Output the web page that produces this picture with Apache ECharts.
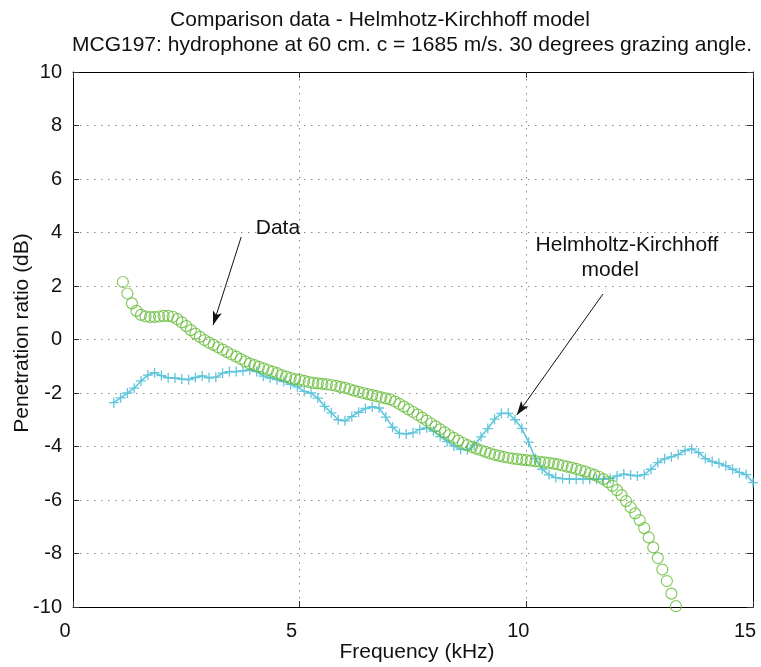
<!DOCTYPE html>
<html><head><meta charset="utf-8">
<script src="https://cdn.jsdelivr.net/npm/echarts@6/dist/echarts.min.js"></script>
<style>html,body{margin:0;padding:0;background:#fff}#c{width:761px;height:667px}</style>
</head><body><div id="c"></div><script>
const titleLine1 = 'Comparison data - Helmhotz-Kirchhoff model';
const titleLine2 = 'MCG197: hydrophone at 60 cm. c = 1685 m/s. 30 degrees grazing angle.';
const xAxisName = 'Frequency (kHz)';
const yAxisName = 'Penetration ratio (dB)';
const xRange = [0, 15, 5];
const yRange = [-10, 10, 2];

// "Data" series (green circles): frequency grid 1.1 .. 13.3 kHz, step 0.1
const dataFreqStart = 1.1, dataFreqStep = 0.1;
const dataValues = [
  2.15,1.72,1.35,1.07,0.92,0.86,0.84,0.84,0.86,0.88,
  0.88,0.85,0.76,0.64,0.5,0.35,0.22,0.1,-0.02,-0.12,
  -0.2,-0.29,-0.38,-0.47,-0.56,-0.64,-0.73,-0.82,-0.9,-0.96,
  -1.02,-1.08,-1.14,-1.2,-1.26,-1.33,-1.39,-1.44,-1.48,-1.51,
  -1.55,-1.59,-1.62,-1.64,-1.66,-1.68,-1.7,-1.73,-1.77,-1.81,
  -1.86,-1.91,-1.96,-2.0,-2.04,-2.08,-2.12,-2.16,-2.2,-2.24,
  -2.32,-2.41,-2.51,-2.61,-2.71,-2.81,-2.92,-3.03,-3.14,-3.25,
  -3.36,-3.47,-3.58,-3.68,-3.78,-3.87,-3.95,-4.02,-4.08,-4.14,
  -4.2,-4.26,-4.31,-4.35,-4.39,-4.42,-4.45,-4.47,-4.49,-4.51,
  -4.53,-4.55,-4.57,-4.59,-4.61,-4.64,-4.67,-4.71,-4.75,-4.79,
  -4.84,-4.89,-4.94,-5.0,-5.06,-5.13,-5.22,-5.33,-5.47,-5.63,
  -5.82,-6.04,-6.27,-6.5,-6.75,-7.05,-7.4,-7.77,-8.17,-8.6,
  -9.03,-9.5,-9.97
];

// Helmholtz-Kirchhoff model (cyan +): frequency grid 0.9 .. 15 kHz, step 0.15
const modelFreqStart = 0.9, modelFreqStep = 0.15;
const modelValues = [
  -2.36,-2.18,-2.0,-1.82,-1.55,-1.33,-1.24,-1.35,-1.43,-1.44,
  -1.48,-1.5,-1.42,-1.36,-1.43,-1.41,-1.26,-1.2,-1.2,-1.17,
  -1.14,-1.2,-1.37,-1.44,-1.5,-1.57,-1.68,-1.77,-1.94,-2.0,
  -2.19,-2.5,-2.74,-3.0,-3.04,-2.88,-2.72,-2.58,-2.52,-2.56,
  -2.9,-3.28,-3.51,-3.53,-3.49,-3.36,-3.3,-3.42,-3.63,-3.82,
  -3.98,-4.11,-4.12,-3.95,-3.64,-3.33,-2.98,-2.76,-2.76,-3.0,
  -3.32,-3.84,-4.45,-4.85,-5.06,-5.16,-5.2,-5.22,-5.22,-5.22,
  -5.22,-5.22,-5.22,-5.2,-5.1,-5.03,-5.07,-5.1,-5.05,-4.85,
  -4.6,-4.46,-4.39,-4.3,-4.15,-4.09,-4.23,-4.45,-4.56,-4.63,
  -4.72,-4.85,-4.97,-5.05,-5.35
];

// Annotations (data coordinates)
const annotationTexts = [
  {text: 'Data', at: [4.52, 4.17]},
  {text: 'Helmholtz-Kirchhoff', at: [12.22, 3.53]},
  {text: 'model', at: [11.85, 2.6]}
];
const arrows = [
  {from: [3.71, 3.83], to: [3.09, 0.54]},
  {from: [11.69, 1.70], to: [9.79, -2.82]}
];

const FONT = "'Liberation Sans', Arial, Helvetica, sans-serif";
const GREEN = '#66bb3a';
const CYAN = '#62c6dc';

const dataPoints = dataValues.map((v, i) => [+(dataFreqStart + i * dataFreqStep).toFixed(2), v]);
const modelPoints = modelValues.map((v, i) => [+(modelFreqStart + i * modelFreqStep).toFixed(2), v]);

const chart = echarts.init(document.getElementById('c'), null, {renderer: 'canvas'});
const grid = {left: 73, top: 72, width: 680, height: 535};
const tickStyle = {inside: true, length: 6, lineStyle: {color: '#333', width: 1}};
const lineAx = {show: true, onZero: false, lineStyle: {color: '#000', width: 1}};
const gridLine = {show: true, lineStyle: {type: [1.5, 5.5], color: '#888', width: 1}};

chart.setOption({
  animation: false,
  backgroundColor: '#fff',
  grid: grid,
  xAxis: [
    {type: 'value', min: xRange[0], max: xRange[1], interval: xRange[2], position: 'bottom',
     axisLine: lineAx, axisTick: tickStyle, splitLine: gridLine,
     axisLabel: {color: '#111', fontSize: 20, fontFamily: FONT, margin: 14, padding: [0, 16, 0, 0]}},
    {type: 'value', min: xRange[0], max: xRange[1], interval: xRange[2], position: 'top',
     axisLine: lineAx, axisTick: tickStyle, splitLine: {show: false}, axisLabel: {show: false}}
  ],
  yAxis: [
    {type: 'value', min: yRange[0], max: yRange[1], interval: yRange[2], position: 'left',
     axisLine: lineAx, axisTick: tickStyle, splitLine: gridLine,
     axisLabel: {color: '#111', fontSize: 20, fontFamily: FONT, margin: 11, padding: [0, 0, 16, 0]}},
    {type: 'value', min: yRange[0], max: yRange[1], interval: yRange[2], position: 'right',
     axisLine: lineAx, axisTick: tickStyle, splitLine: {show: false}, axisLabel: {show: false}}
  ],
  series: [
    {type: 'line', name: 'model', data: modelPoints, xAxisIndex: 0, yAxisIndex: 0,
     symbol: 'path://M5,0L5,10M0,5L10,5', symbolSize: 10, showAllSymbol: true,
     lineStyle: {color: CYAN, width: 1.6},
     itemStyle: {color: CYAN, borderColor: CYAN, borderWidth: 1.3},
     z: 2,
     markLine: {silent: true, symbol: ['none', 'arrow'], symbolSize: [7, 14], animation: false,
       lineStyle: {color: '#111', width: 1, type: 'solid'}, label: {show: false},
       emphasis: {disabled: true},
       data: arrows.map(a => [{coord: a.from}, {coord: a.to}])}},
    {type: 'scatter', name: 'data', data: dataPoints, xAxisIndex: 0, yAxisIndex: 0,
     symbol: 'circle', symbolSize: 11,
     itemStyle: {color: 'rgba(0,0,0,0)', borderColor: GREEN, borderWidth: 1.2},
     z: 3}
  ]
});

const txtStyle = (t, x, y, size, extra) => Object.assign({
  type: 'text', x: x, y: y,
  style: {text: t, font: size + 'px ' + FONT, fill: '#111', align: 'center', verticalAlign: 'middle'}
}, extra || {});

const graphics = [
  txtStyle(titleLine1, 380, 20, 21),
  txtStyle(titleLine2, 412, 45, 21),
  txtStyle(xAxisName, 417, 652, 21),
  txtStyle(yAxisName, 22, 333, 21, {rotation: Math.PI / 2})
];
annotationTexts.forEach(a => {
  const p = chart.convertToPixel({xAxisIndex: 0, yAxisIndex: 0}, a.at);
  graphics.push(txtStyle(a.text, p[0], p[1], 21));
});
chart.setOption({graphic: graphics});
</script></body></html>
